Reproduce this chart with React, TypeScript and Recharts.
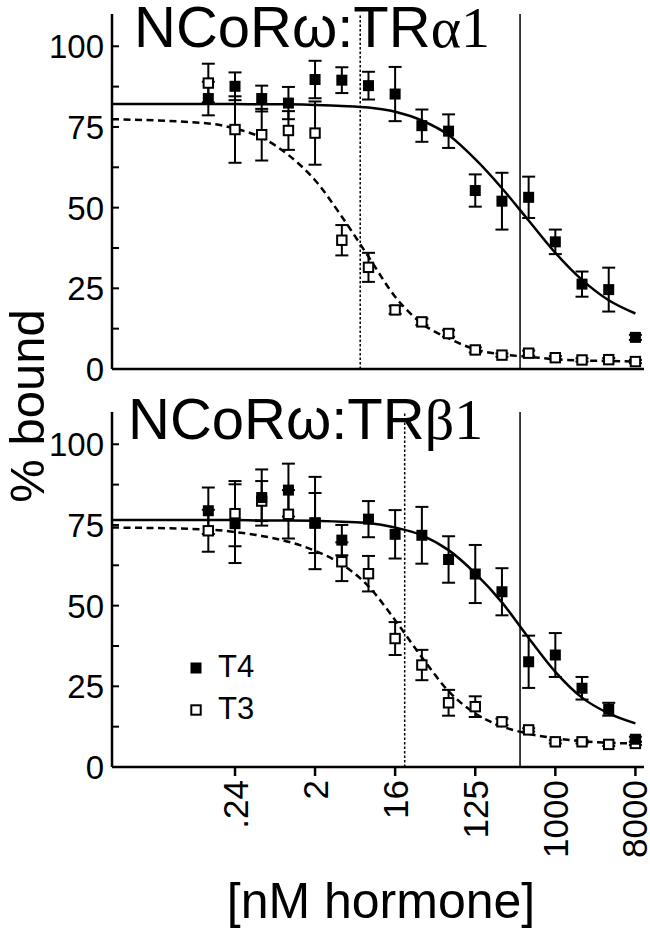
import React from 'react';
import { ComposedChart, Scatter, Line, XAxis, YAxis, ErrorBar, ReferenceLine, Legend } from 'recharts';

// hormone concentrations (nM), two-fold dilutions
const conc = [0.122, 0.244, 0.488, 0.977, 1.95, 3.91, 7.81, 15.6, 31.25, 62.5, 125, 250, 500, 1000, 2000, 4000, 8000];
const fitConc = [0.01, 0.122, 0.244, 0.488, 0.977, 1.95, 3.91, 7.81, 15.6, 31.25, 62.5, 125, 250, 500, 1000, 2000, 4000, 8000];

const xTickValues = [0.244, 1.95, 15.6, 125, 1000, 8000];
const xTickLabels = ['.24', '2', '16', '125', '1000', '8000'];
const yTicks = [0, 12.5, 25, 37.5, 50, 62.5, 75, 87.5, 100];

// NCoRw:TRa1
const alphaT4 = [83.8, 87.6, 83.8, 82.4, 89.7, 89.5, 87.8, 85.2, 75.4, 73.7, 55.3, 52.0, 53.2, 39.4, 26.3, 24.6, 9.8];
const alphaT4Err = [5.2, 4.3, 4.0, 5.0, 5.8, 4.0, 4.3, 8.4, 5.0, 5.2, 5.0, 8.8, 6.4, 3.8, 3.9, 6.8, 0.8];
const alphaT3 = [88.6, 74.2, 72.6, 73.9, 73.1, 39.9, 31.5, 18.3, 14.6, 11.0, 5.9, 4.3, 4.9, 3.5, 2.8, 2.9, 2.3];
const alphaT3Err = [6.0, 10.3, 8.0, 6.0, 9.8, 4.7, 4.5, 1.2, 1.0, 1.0, 0.8, 0.5, 0.8, 0.5, 0.5, 0.5, 0.5];
const alphaT4Fit = [82.1, 82.1, 82.1, 82.0, 82.0, 81.8, 81.5, 81.0, 79.7, 77.0, 72.5, 65.0, 56.0, 46.0, 36.0, 27.6, 21.3, 17.2];
const alphaT3Fit = [77.4, 76.1, 74.5, 71.7, 66.3, 58.5, 47.2, 34.8, 22.4, 14.1, 9.5, 6.1, 4.5, 3.8, 3.0, 2.6, 2.5, 2.3];
const alphaIc50 = { t4: 400, t3: 6.3 };

// NCoRw:TRb1
const betaT4 = [79.4, 75.4, 83.5, 85.8, 75.6, 70.3, 76.8, 72.1, 71.8, 64.3, 59.8, 54.3, 32.6, 34.7, 24.4, 17.9, 8.6];
const betaT4Err = [7.2, 12.2, 8.7, 8.2, 14.3, 4.7, 5.6, 7.5, 8.8, 7.2, 9.0, 7.3, 8.1, 6.8, 3.5, 2.0, 0.8];
const betaT3 = [73.2, 78.5, 82.4, 78.3, 75.6, 63.6, 59.9, 39.8, 31.6, 19.9, 18.7, 14.0, 11.5, 7.8, 7.8, 7.0, 7.3];
const betaT3Err = [6.5, 10.1, 6.2, 7.5, 9.3, 6.0, 5.5, 5.1, 4.7, 4.0, 3.2, 1.0, 0.5, 0.5, 0.5, 0.5, 0.5];
const betaT4Fit = [76.5, 76.5, 76.5, 76.4, 76.4, 76.3, 76.0, 75.6, 74.2, 71.8, 67.2, 60.0, 51.0, 40.0, 29.5, 21.5, 16.6, 13.5];
const betaT3Fit = [74.2, 73.6, 72.8, 71.6, 69.8, 67.0, 62.8, 56.0, 45.5, 34.0, 23.5, 16.6, 12.6, 10.3, 8.9, 8.0, 7.5, 7.3];
const betaIc50 = { t4: 400, t3: 20 };

const legendNames = ['T4', 'T3'];

const SANS = "'Liberation Sans', Arial, Helvetica, sans-serif";
const SERIF = "'Liberation Serif', 'Times New Roman', serif";
const AXIS_X = 112;
const Y_AXIS_W = 50;

const FilledSquare = (props: any) => {
  const { cx, cy } = props;
  return <rect x={cx - 5.5} y={cy - 5.5} width={11} height={11} fill="#000" />;
};

const OpenSquare = (props: any) => {
  const { cx, cy } = props;
  return <rect x={cx - 4.7} y={cy - 4.7} width={9.4} height={9.4} fill="#fff" stroke="#000" strokeWidth={2} />;
};

// ticks point into the plot, labels only on every 25
const renderYTick = (props: any) => {
  const { y, payload } = props;
  const major = payload.value % 25 === 0;
  return (
    <g>
      <line x1={AXIS_X} x2={AXIS_X + 7} y1={y} y2={y} stroke="#000" strokeWidth={2} />
      {major && (
        <text x={104} y={y} dy="0.36em" textAnchor="end" fontSize={33} fontFamily={SANS} fill="#000">
          {payload.value}
        </text>
      )}
    </g>
  );
};

const renderXTick = (props: any) => {
  const { x, payload } = props;
  const label = xTickLabels[xTickValues.indexOf(payload.value)];
  const ty = 400; // panel-relative: axis at 387, ticks to 396
  return (
    <text
      x={x}
      y={ty}
      dy="0.36em"
      transform={`rotate(-90 ${x} ${ty})`}
      textAnchor="end"
      fontSize={35}
      fontFamily={SANS}
      fill="#000"
    >
      {label}
    </text>
  );
};

const renderLegend = () => (
  <svg width={90} height={80}>
    <rect x={6.5} y={12.5} width={11} height={11} fill="#000" />
    <text x={34} y={27} fontSize={31} fontFamily={SANS} fill="#000">{legendNames[0]}</text>
    <rect x={7.3} y={55.3} width={9.4} height={9.4} fill="#fff" stroke="#000" strokeWidth={2} />
    <text x={34} y={69} fontSize={31} fontFamily={SANS} fill="#000">{legendNames[1]}</text>
  </svg>
);

type PanelProps = {
  t4: number[];
  t4Err: number[];
  t3: number[];
  t3Err: number[];
  t4Fit: number[];
  t3Fit: number[];
  ic50: { t4: number; t3: number };
  height: number;
  top: number;
  bottom: number;
  xAxisHeight: number;
  showXTicks: boolean;
  showLegend: boolean;
};

const Panel = ({ t4, t4Err, t3, t3Err, t4Fit, t3Fit, ic50, height, top, bottom, xAxisHeight, showXTicks, showLegend }: PanelProps) => {
  const t4Data = conc.map((x, i) => ({ x, y: t4[i], err: t4Err[i] }));
  const t3Data = conc.map((x, i) => ({ x, y: t3[i], err: t3Err[i] }));
  const t4Curve = fitConc.map((x, i) => ({ x, y: t4Fit[i] }));
  const t3Curve = fitConc.map((x, i) => ({ x, y: t3Fit[i] }));
  const axisStyle = { stroke: '#000', strokeWidth: 2.5 };

  return (
    <ComposedChart width={650} height={height} margin={{ top, right: 6, bottom, left: AXIS_X - Y_AXIS_W }}>
      <XAxis
        dataKey="x"
        type="number"
        scale="log"
        domain={[0.01, 10000]}
        allowDataOverflow
        ticks={xTickValues}
        tick={showXTicks ? renderXTick : false}
        tickLine={showXTicks ? axisStyle : false}
        tickSize={9}
        height={xAxisHeight}
        axisLine={axisStyle}
        stroke="#000"
      />
      <YAxis
        type="number"
        domain={[0, 110]}
        ticks={yTicks}
        tick={renderYTick}
        tickLine={false}
        width={Y_AXIS_W}
        allowDataOverflow
        axisLine={axisStyle}
        stroke="#000"
      />
      <ReferenceLine x={ic50.t3} stroke="#000" strokeWidth={1.5} strokeDasharray="2.5 2" />
      <ReferenceLine x={ic50.t4} stroke="#000" strokeWidth={1.5} />
      <Scatter name="T3" data={t3Data} dataKey="y" shape={OpenSquare} isAnimationActive={false} legendType="none">
        <ErrorBar dataKey="err" direction="y" width={6.5} stroke="#000" strokeWidth={2} />
      </Scatter>
      <Scatter name="T4" data={t4Data} dataKey="y" shape={FilledSquare} isAnimationActive={false} legendType="none">
        <ErrorBar dataKey="err" direction="y" width={6.5} stroke="#000" strokeWidth={2} />
      </Scatter>
      <Line data={t3Curve} dataKey="y" type="monotone" stroke="#000" strokeWidth={2.5} strokeDasharray="7 4.5" dot={false} isAnimationActive={false} legendType="none" />
      <Line data={t4Curve} dataKey="y" type="monotone" stroke="#000" strokeWidth={2.5} dot={false} isAnimationActive={false} legendType="none" />
      {showLegend && (
        <Legend
          layout="vertical"
          align="center"
          verticalAlign="middle"
          content={renderLegend}
          wrapperStyle={{ left: 184, top: 270, width: 90, height: 80 }}
        />
      )}
    </ComposedChart>
  );
};

export default function App() {
  return (
    <div style={{ position: 'absolute', left: 0, top: 0, width: 650, height: 932, background: '#fff' }}>
      <div style={{ position: 'absolute', left: 0, top: 0 }}>
        <Panel
          t4={alphaT4}
          t4Err={alphaT4Err}
          t3={alphaT3}
          t3Err={alphaT3Err}
          t4Fit={alphaT4Fit}
          t3Fit={alphaT3Fit}
          ic50={alphaIc50}
          height={392}
          top={14}
          bottom={13}
          xAxisHeight={10}
          showXTicks={false}
          showLegend={false}
        />
      </div>
      <div style={{ position: 'absolute', left: 0, top: 380 }}>
        <Panel
          t4={betaT4}
          t4Err={betaT4Err}
          t3={betaT3}
          t3Err={betaT3Err}
          t4Fit={betaT4Fit}
          t3Fit={betaT3Fit}
          ic50={betaIc50}
          height={552}
          top={32}
          bottom={65}
          xAxisHeight={100}
          showXTicks={true}
          showLegend={true}
        />
      </div>
      <svg width={650} height={932} style={{ position: 'absolute', left: 0, top: 0, pointerEvents: 'none' }}>
        <text x={134} y={47} fontSize={58} fontFamily={SANS} fill="#000">
          NCoRω:TR<tspan fontFamily={SERIF}>α1</tspan>
        </text>
        <text x={128} y={439} fontSize={58} fontFamily={SANS} fill="#000">
          NCoRω:TR<tspan fontFamily={SERIF}>β1</tspan>
        </text>
        <text x={44} y={406} transform="rotate(-90 44 406)" textAnchor="middle" fontSize={49} fontFamily={SANS} fill="#000">
          % bound
        </text>
        <text x={381} y={918} textAnchor="middle" fontSize={50} fontFamily={SANS} fill="#000">
          [nM hormone]
        </text>
      </svg>
    </div>
  );
}
